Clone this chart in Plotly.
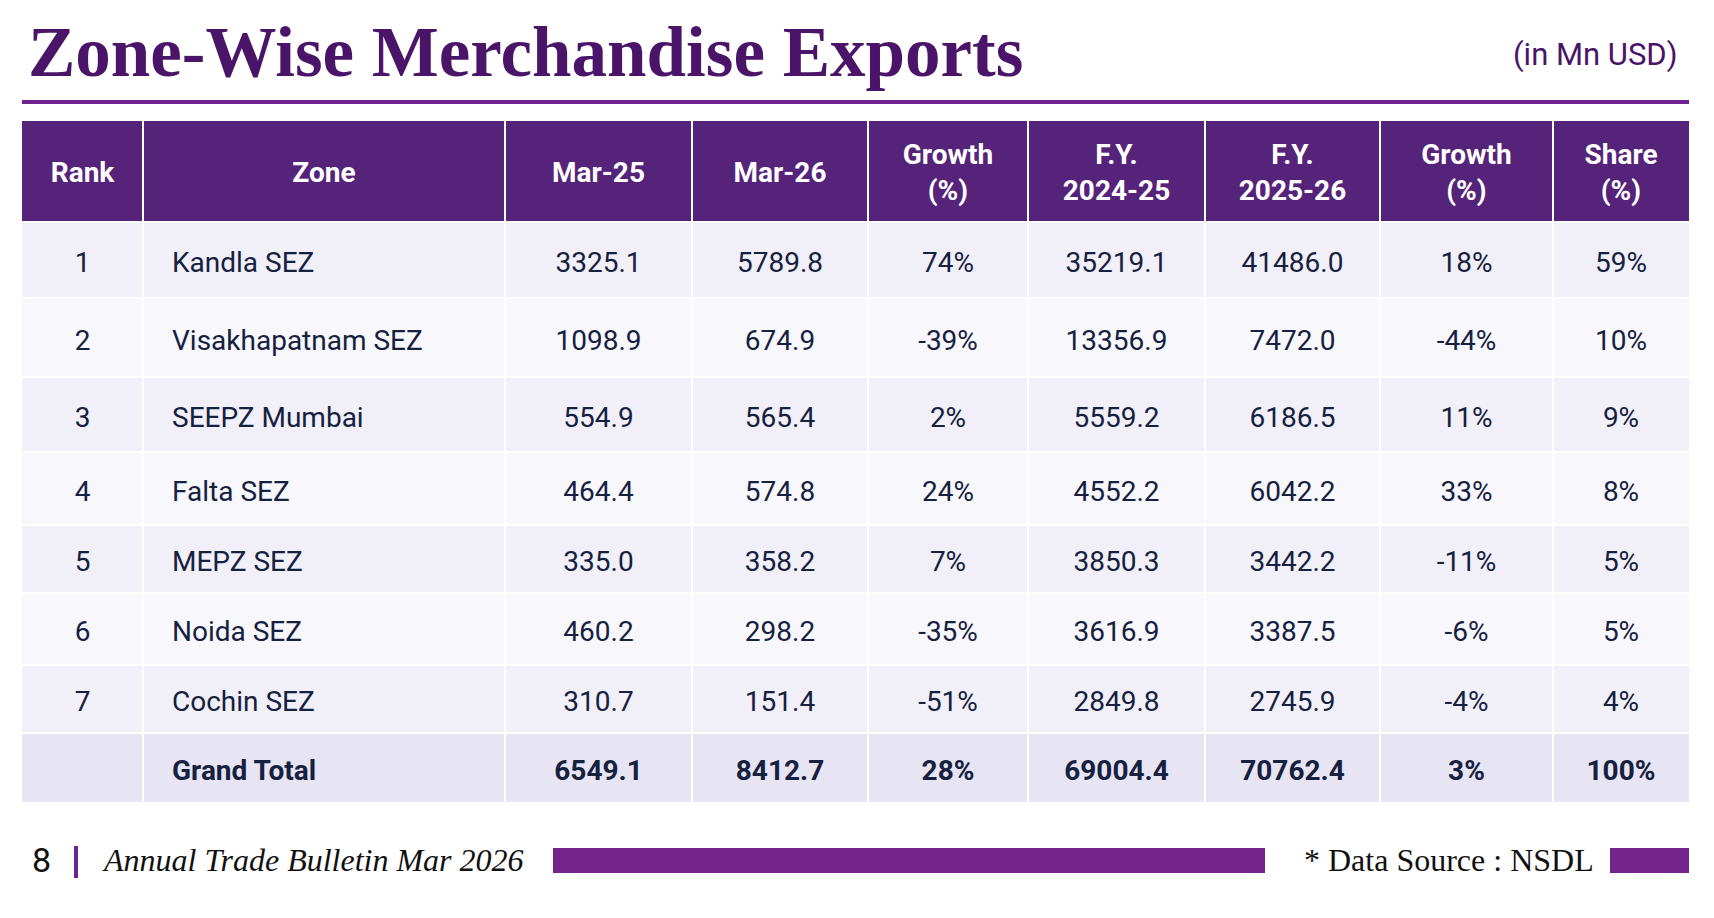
import plotly.graph_objects as go

# ---------------- data ----------------
ranks = [1, 2, 3, 4, 5, 6, 7]
zones = ["Kandla SEZ", "Visakhapatnam SEZ", "SEEPZ Mumbai", "Falta SEZ",
         "MEPZ SEZ", "Noida SEZ", "Cochin SEZ"]
mar25 = [3325.1, 1098.9, 554.9, 464.4, 335.0, 460.2, 310.7]
mar26 = [5789.8, 674.9, 565.4, 574.8, 358.2, 298.2, 151.4]
growth_month = [74, -39, 2, 24, 7, -35, -51]
fy2425 = [35219.1, 13356.9, 5559.2, 4552.2, 3850.3, 3616.9, 2849.8]
fy2526 = [41486.0, 7472.0, 6186.5, 6042.2, 3442.2, 3387.5, 2745.9]
growth_fy = [18, -44, 11, 33, -11, -6, -4]
share = [59, 10, 9, 8, 5, 5, 4]

total_label = "Grand Total"
total_mar25 = 6549.1
total_mar26 = 8412.7
total_growth_month = 28
total_fy2425 = 69004.4
total_fy2526 = 70762.4
total_growth_fy = 3
total_share = 100

headers = ["Rank", "Zone", "Mar-25", "Mar-26", "Growth<br>(%)",
           "F.Y.<br>2024-25", "F.Y.<br>2025-26", "Growth<br>(%)", "Share<br>(%)"]

title = "Zone-Wise Merchandise Exports"
unit = "(in Mn USD)"
page_no = "8"
bulletin = "Annual Trade Bulletin Mar 2026"
source = "* Data Source : NSDL"

# ---------------- style / layout ----------------
PAGE_W, PAGE_H = 1714, 918
OFF = 8                      # default html body margin
FIG_W, FIG_H = PAGE_W - OFF, PAGE_H - OFF

PURPLE_HDR = "#56237a"
PURPLE_TITLE = "#4a1469"
PURPLE_LINE = "#6d2290"
PURPLE_BAR = "#74248a"
TEXT = "#16213f"
ROW_A = "#f1eff8"
ROW_B = "#f8f7fc"
ROW_T = "#e7e4f3"

col_widths = [121, 362, 187, 176, 160, 177, 175, 173, 136]
TBL_L, TBL_T = 22, 121
HDR_H = 101
row_heights = [76, 79, 75, 73, 68, 72, 68, 69]
TEXT_DY = 5
HDR_DY = 3.5
ZONE_PAD = 29
BODY_SIZE = 28
HDR_SIZE = 28


def fmt1(v):
    return f"{v:.1f}"


def pct(v):
    return f"{v}%"


columns = [
    [str(r) for r in ranks] + [""],
    zones + [total_label],
    [fmt1(v) for v in mar25] + [fmt1(total_mar25)],
    [fmt1(v) for v in mar26] + [fmt1(total_mar26)],
    [pct(v) for v in growth_month] + [pct(total_growth_month)],
    [fmt1(v) for v in fy2425] + [fmt1(total_fy2425)],
    [fmt1(v) for v in fy2526] + [fmt1(total_fy2526)],
    [pct(v) for v in growth_fy] + [pct(total_growth_fy)],
    [pct(v) for v in share] + [pct(total_share)],
]
n_rows = len(ranks) + 1

# column edges / centres
col_edges = [TBL_L]
for w in col_widths:
    col_edges.append(col_edges[-1] + w)
TBL_R = col_edges[-1]
col_centers = [(a + b) / 2 for a, b in zip(col_edges[:-1], col_edges[1:])]

# row edges / centres
row_edges = [TBL_T + HDR_H]
for h in row_heights:
    row_edges.append(row_edges[-1] + h)
row_centers = [(a + b) / 2 for a, b in zip(row_edges[:-1], row_edges[1:])]
row_colors = [ROW_A if i % 2 == 0 else ROW_B for i in range(len(ranks))] + [ROW_T]

fig = go.Figure()

# header text
fig.add_trace(go.Scatter(
    x=col_centers, y=[TBL_T + HDR_H / 2 + HDR_DY] * len(headers),
    text=[f"<b>{h}</b>" for h in headers], mode="text",
    textposition="middle center",
    textfont=dict(family="Roboto", size=HDR_SIZE, color="white"),
    hoverinfo="skip", showlegend=False,
))

# body text, one trace per column
for ci, col in enumerate(columns):
    txt = [f"<b>{t}</b>" if ri == n_rows - 1 else t for ri, t in enumerate(col)]
    if ci == 1:
        xs = [col_edges[1] + ZONE_PAD] * n_rows
        pos = "middle right"
    else:
        xs = [col_centers[ci]] * n_rows
        pos = "middle center"
    fig.add_trace(go.Scatter(
        x=xs, y=[c + TEXT_DY for c in row_centers], text=txt, mode="text",
        textposition=pos,
        textfont=dict(family="Roboto", size=BODY_SIZE, color=TEXT),
        hoverinfo="skip", showlegend=False,
    ))

shapes = []
# header background
shapes.append(dict(type="rect", xref="x", yref="y", x0=TBL_L, x1=TBL_R,
                   y0=TBL_T, y1=TBL_T + HDR_H, fillcolor=PURPLE_HDR,
                   line=dict(width=0), layer="below"))
# row backgrounds
for ri in range(n_rows):
    shapes.append(dict(type="rect", xref="x", yref="y", x0=TBL_L, x1=TBL_R,
                       y0=row_edges[ri], y1=row_edges[ri + 1],
                       fillcolor=row_colors[ri], line=dict(width=0), layer="below"))
# horizontal white separators between rows
for y in row_edges[:-1]:
    shapes.append(dict(type="line", xref="x", yref="y", x0=TBL_L, x1=TBL_R,
                       y0=y, y1=y, line=dict(color="white", width=2), layer="below"))
# vertical white separators
for x in col_edges[1:-1]:
    shapes.append(dict(type="line", xref="x", yref="y", x0=x, x1=x,
                       y0=TBL_T, y1=row_edges[-1],
                       line=dict(color="white", width=2), layer="below"))
# title rule
shapes.append(dict(type="line", xref="x", yref="y", x0=TBL_L, x1=TBL_R, y0=102, y1=102,
                   line=dict(color=PURPLE_LINE, width=4)))
# footer marks
shapes.append(dict(type="line", xref="x", yref="y", x0=76, x1=76, y0=846, y1=878,
                   line=dict(color=PURPLE_LINE, width=4)))
shapes.append(dict(type="rect", xref="x", yref="y", x0=553, x1=1265, y0=848, y1=873,
                   fillcolor=PURPLE_BAR, line=dict(width=0)))
shapes.append(dict(type="rect", xref="x", yref="y", x0=1610, x1=TBL_R, y0=848, y1=873,
                   fillcolor=PURPLE_BAR, line=dict(width=0)))

annotations = [
    dict(text=f"<b>{title}</b>", x=26, y=52, xref="x", yref="y",
         xanchor="left", yanchor="middle", showarrow=False,
         font=dict(family="Liberation Serif", size=71, color=PURPLE_TITLE)),
    dict(text=unit, x=1679, y=54, xref="x", yref="y",
         xanchor="right", yanchor="middle", showarrow=False,
         font=dict(family="Roboto", size=31, color=PURPLE_TITLE)),
    dict(text=page_no, x=30, y=860, xref="x", yref="y",
         xanchor="left", yanchor="middle", showarrow=False,
         font=dict(family="Roboto", size=34, color="#111111")),
    dict(text=f"<i>{bulletin}</i>", x=100, y=860, xref="x", yref="y",
         xanchor="left", yanchor="middle", showarrow=False,
         font=dict(family="Liberation Serif", size=32, color="#111111")),
    dict(text=source, x=1302, y=860, xref="x", yref="y",
         xanchor="left", yanchor="middle", showarrow=False,
         font=dict(family="Liberation Serif", size=32, color="#111111")),
]

fig.update_layout(
    width=FIG_W, height=FIG_H,
    margin=dict(l=0, r=0, t=0, b=0, pad=0),
    paper_bgcolor="white",
    plot_bgcolor="white",
    xaxis=dict(range=[OFF, PAGE_W], visible=False, fixedrange=True,
               showgrid=False, zeroline=False),
    yaxis=dict(range=[PAGE_H, OFF], visible=False, fixedrange=True,
               showgrid=False, zeroline=False),
    shapes=shapes,
    annotations=annotations,
)

fig.write_html("out.html")
